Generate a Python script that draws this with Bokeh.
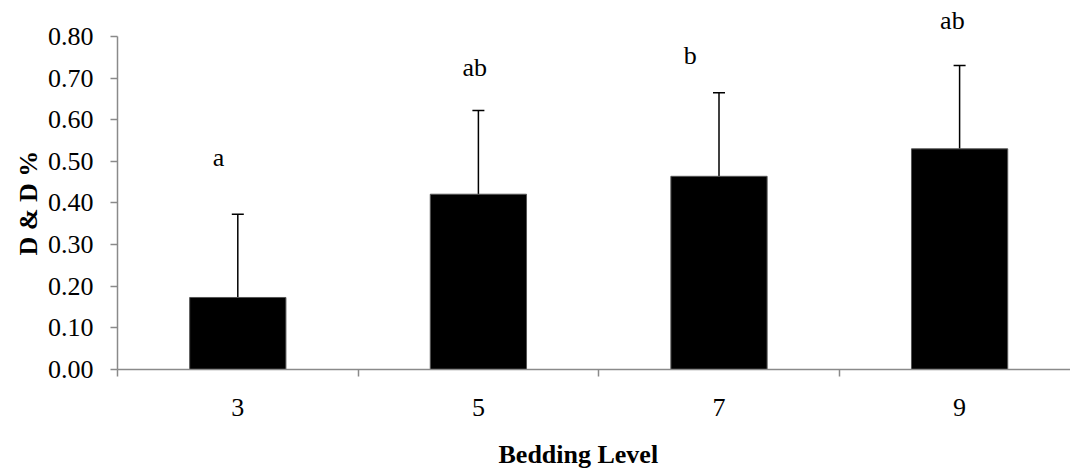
from bokeh.plotting import figure
from bokeh.models import (ColumnDataSource, FixedTicker, NumeralTickFormatter,
                          Whisker, TeeHead, LabelSet, Range1d, Title, LinearAxis)
from bokeh.core.properties import value
from bokeh.embed import file_html
from bokeh.resources import INLINE

# ---- data ----
categories = ["3", "5", "7", "9"]
means = [0.173, 0.421, 0.464, 0.530]
errors = [0.200, 0.201, 0.201, 0.200]
letters = ["a", "ab", "b", "ab"]
letter_heights = [0.488, 0.704, 0.733, 0.819]
letter_dx = [-0.08, -0.015, -0.12, -0.03]
y_ticks = [0.0, 0.1, 0.2, 0.3, 0.4, 0.5, 0.6, 0.7, 0.8]

FONT = "Liberation Serif"

xs = [i + 0.5 for i in range(len(categories))]
src = ColumnDataSource(dict(
    x=xs, top=means, upper=[m + e for m, e in zip(means, errors)],
    lx=[x + d for x, d in zip(xs, letter_dx)], ly=letter_heights, letters=letters,
))

p = figure(width=1070, height=468, output_backend="svg", toolbar_location=None,
           x_range=Range1d(0, 953 / 240.6), y_range=Range1d(0, 0.8863),
           min_border_left=117, min_border_right=0, min_border_top=0,
           min_border_bottom=99)
p.outline_line_color = None
p.xgrid.visible = False
p.ygrid.visible = False
p.background_fill_color = "white"

p.vbar(x="x", top="top", width=0.4, bottom=0, source=src,
       fill_color="black", line_color="#555555", line_width=1)

wh = Whisker(source=src, base="x", lower="top", upper="upper",
             line_color="black", line_width=1.5,
             upper_head=TeeHead(size=12, line_color="black", line_width=1.5),
             lower_head=None)
p.add_layout(wh)

labels = LabelSet(x="lx", y="ly", text="letters", source=src,
                  text_align="center", text_baseline="alphabetic",
                  text_font=value(FONT), text_font_size=value("26px"),
                  text_color="black")
p.add_layout(labels)

axcol = "#8a8a8a"
# y axis
ya = p.yaxis[0]
ya.bounds = (0, 0.8)
ya.ticker = FixedTicker(ticks=y_ticks)
ya.formatter = NumeralTickFormatter(format="0.00")
ya.axis_line_color = axcol
ya.axis_line_width = 1.5
ya.major_tick_line_color = axcol
ya.major_tick_line_width = 1.5
ya.major_tick_in = 0
ya.major_tick_out = 7
ya.minor_tick_line_color = None
ya.major_label_standoff = 17
ya.major_label_text_font = FONT
ya.major_label_text_font_size = "26px"
ya.major_label_text_color = "black"

p.add_layout(Title(text="D & D %", align="left", offset=114,
                   text_font=FONT, text_font_size="26px",
                   text_font_style="bold", text_color="black", standoff=4), "left")

# x axis
xa = p.xaxis[0]
xa.ticker = FixedTicker(ticks=xs, minor_ticks=[0, 1, 2, 3])
xa.major_label_overrides = {x: c for x, c in zip(xs, categories)}
xa.axis_line_color = axcol
xa.axis_line_width = 1.5
xa.major_tick_line_color = None
xa.major_tick_in = 0
xa.major_tick_out = 0
xa.minor_tick_line_color = axcol
xa.minor_tick_line_width = 1.5
xa.minor_tick_in = 0
xa.minor_tick_out = 7
xa.major_label_standoff = 22
xa.major_label_text_font = FONT
xa.major_label_text_font_size = "26px"
xa.major_label_text_color = "black"

# invisible spacer axis between tick labels and the x title
spacer = LinearAxis(ticker=FixedTicker(ticks=[]),
                    axis_line_color=None, major_tick_line_color=None,
                    minor_tick_line_color=None, major_label_text_font_size="0px",
                    axis_label=" ", axis_label_standoff=15,
                    axis_label_text_font_size="1px",
                    major_label_standoff=0, major_tick_out=0, major_tick_in=0,
                    minor_tick_out=0, minor_tick_in=0)
p.add_layout(spacer, "below")

p.add_layout(Title(text="Bedding Level", align="left", offset=381,
                   text_font=FONT, text_font_size="26px",
                   text_font_style="bold", text_color="black", standoff=0), "below")

open("out.html", "w").write(file_html(p, INLINE))
